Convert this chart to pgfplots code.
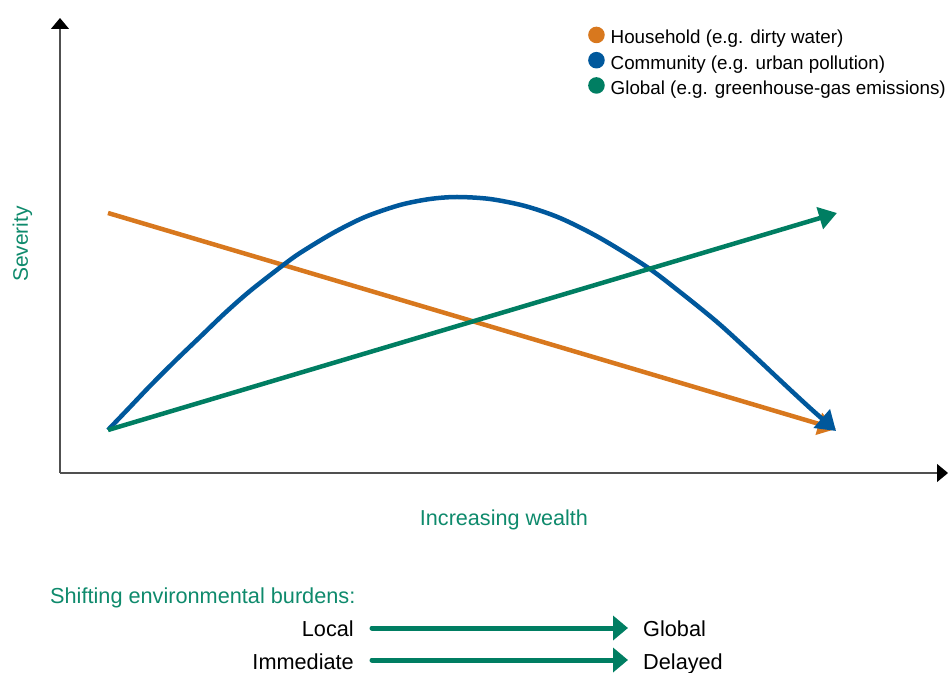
\documentclass[border=0pt]{standalone}
\usepackage{fontspec}
\setmainfont{Liberation Sans}
\usepackage{pgfplots}
\pgfplotsset{compat=1.18}
\usetikzlibrary{arrows.meta}

\definecolor{hhorange}{HTML}{D8781E}
\definecolor{comblue}{HTML}{00589C}
\definecolor{globgreen}{HTML}{007E62}
\definecolor{txtgreen}{HTML}{0E8A6C}
\definecolor{axgray}{HTML}{505050}

\begin{document}
\begin{tikzpicture}
\path[use as bounding box] (0,0) rectangle (948bp,673bp);
\begin{axis}[
    at={(60bp,200bp)}, anchor=south west,
    scale only axis,
    width=888bp, height=455bp,
    xmin=60, xmax=948,
    ymin=200, ymax=655,
    axis lines=left,
    axis line style={axgray, line width=1.3bp, -{Triangle[length=11bp,width=18bp,black]}},
    xtick=\empty, ytick=\empty,
    clip=false,
    legend style={draw=none, fill=none, at={(axis cs:588,646.5)}, anchor=north west,
        font=\fontsize{18.8bp}{18.8bp}\selectfont, inner sep=0pt,
        nodes={text height=14bp, text depth=4bp, inner sep=0pt}, row sep=4bp},
    legend cell align=left,
]
% Household
\addplot[hhorange, line width=4.5bp, -{Triangle[length=18bp,width=22bp]},
    legend image code/.code={\fill[hhorange] (3bp,4bp) circle (6bp);}]
    coordinates {(108,460) (836,244)};
\addlegendentry{\hspace{6bp}Household (e.g. dirty water)}
% Community
\addplot[comblue, line width=4.5bp, smooth, -{Triangle[length=19bp,width=24bp]},
    legend image code/.code={\fill[comblue] (3bp,4bp) circle (6bp);}]
    coordinates {(108,243) (130,266) (150,287) (175,312) (200,336) (225,360)
                 (250,382) (282,407) (300,420) (333,440) (365,456) (400,468)
                 (430,474) (457,476) (490,474) (525,467) (560,455) (600,435)
                 (647,406) (680,381) (717,351) (750,321) (783,290) (810,265)
                 (836,242)};
\addlegendentry{\hspace{6bp}Community (e.g. urban pollution)}
% Global
\addplot[globgreen, line width=4.5bp, -{Triangle[length=18bp,width=22bp]},
    legend image code/.code={\fill[globgreen] (3bp,4bp) circle (6bp);}]
    coordinates {(108,243) (837,460)};
\addlegendentry{\hspace{6bp}Global (e.g. greenhouse-gas emissions)}

\node[txtgreen, rotate=90, anchor=base, font=\fontsize{21bp}{21bp}\selectfont]
    at (axis cs:28,429) {Severity};
\node[txtgreen, anchor=base, font=\fontsize{21.6bp}{21.6bp}\selectfont]
    at (axis cs:504,148) {Increasing wealth};
\node[txtgreen, anchor=base west, inner sep=0pt, font=\fontsize{21.7bp}{21.7bp}\selectfont]
    at (axis cs:50,70) {Shifting environmental burdens:};
\node[anchor=base east, inner sep=0pt, font=\fontsize{21.7bp}{21.7bp}\selectfont]
    at (axis cs:354,37) {Local};
\node[anchor=base east, inner sep=0pt, font=\fontsize{21.7bp}{21.7bp}\selectfont]
    at (axis cs:354,4) {Immediate};
\node[anchor=base west, inner sep=0pt, font=\fontsize{21.7bp}{21.7bp}\selectfont]
    at (axis cs:643,37) {Global};
\node[anchor=base west, inner sep=0pt, font=\fontsize{21.7bp}{21.7bp}\selectfont]
    at (axis cs:643,4) {Delayed};
\draw[globgreen, line width=5bp, line cap=round, -{Triangle[length=15bp,width=24bp]}]
    (axis cs:372,45) -- (axis cs:628,45);
\draw[globgreen, line width=5bp, line cap=round, -{Triangle[length=15bp,width=24bp]}]
    (axis cs:372,13) -- (axis cs:628,13);
\end{axis}
\end{tikzpicture}
\end{document}
